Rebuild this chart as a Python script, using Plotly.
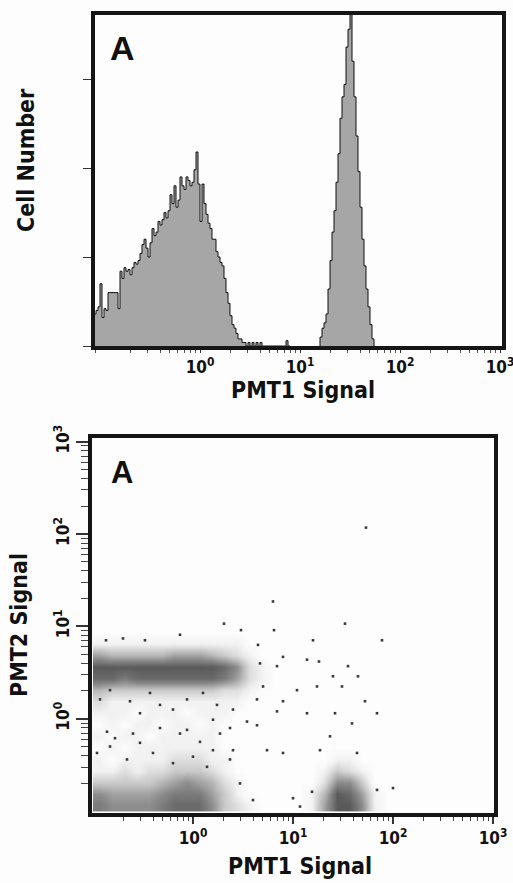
import numpy as np
import plotly.graph_objects as go

# ---------------- top panel: PMT1 histogram ----------------
BIN_W = 0.02  # bin width in decades

# low-intensity population, bins start at 10^-1.06
low_start = -1.06
low_counts = [18, 20, 22, 35, 16, 21, 20, 30, 30, 30, 30, 30, 21, 42, 38, 44, 42, 43, 40, 44,
              47, 46, 48, 52, 57, 60, 55, 50, 58, 66, 62, 64, 70, 68, 71, 75, 72, 76, 85, 80,
              90, 78, 82, 95, 90, 88, 95, 93, 90, 92, 99, 109, 91, 70, 91, 80, 74, 69, 66, 60,
              60, 53, 50, 47, 45, 38, 30, 24, 17, 12, 10, 7, 4, 4, 2, 2, 0, 2, 0, 2,
              0, 2, 0, 2, 0, 0, 0, 0, 0, 0, 0, 0, 0, 0, 0, 0, 3, 0]

# bright population, bins start at 10^1.20
high_start = 1.20
high_counts = [5, 10, 13, 18, 32, 48, 64, 76, 92, 108, 128, 140, 147, 168, 178, 190,
               160, 140, 118, 98, 78, 60, 45, 32, 22, 12, 4]

count_ticks = [0, 50, 100, 150]
decade_vals = [1, 10, 100, 1000]
decade_text = ["10<sup>0</sup>", "10<sup>1</sup>", "10<sup>2</sup>", "10<sup>3</sup>"]

# ---------------- bottom panel: PMT1 vs PMT2 dot density ----------------
# relative event density on a 0.125-decade grid, x from 10^-1 to 10^2, y from 10^-1 to 10^1
grid_start = -1.0
grid_step = 0.125
density_rows = [
    [7, 6, 6, 6, 6, 7, 8, 8, 8, 6, 3, 2, 1, 0, 0, 0, 0, 1, 5, 9, 9, 6, 1, 0],
    [6, 5, 5, 5, 5, 6, 7, 7, 7, 5, 3, 1, 0, 0, 0, 0, 0, 1, 4, 9, 8, 5, 1, 0],
    [3, 3, 3, 3, 3, 4, 5, 6, 5, 4, 2, 1, 0, 0, 0, 0, 0, 0, 2, 6, 6, 3, 0, 0],
    [1, 1, 2, 1, 2, 2, 3, 3, 3, 2, 1, 0, 0, 0, 0, 0, 0, 0, 1, 3, 2, 1, 0, 0],
    [1, 0, 1, 1, 1, 1, 2, 2, 2, 1, 1, 0, 0, 0, 0, 0, 0, 0, 0, 1, 1, 0, 0, 0],
    [0, 1, 0, 1, 1, 1, 1, 1, 1, 1, 0, 0, 0, 0, 0, 0, 0, 0, 0, 0, 0, 0, 0, 0],
    [1, 0, 1, 1, 0, 1, 1, 1, 1, 1, 0, 0, 0, 0, 0, 0, 0, 0, 0, 0, 0, 0, 0, 0],
    [0, 1, 0, 1, 1, 0, 1, 1, 0, 1, 0, 0, 0, 0, 0, 0, 0, 0, 0, 0, 0, 0, 0, 0],
    [1, 1, 1, 0, 1, 1, 1, 0, 1, 1, 1, 0, 0, 0, 0, 0, 0, 0, 0, 0, 0, 0, 0, 0],
    [2, 1, 1, 1, 1, 1, 1, 1, 1, 1, 1, 1, 0, 0, 0, 0, 0, 0, 0, 0, 0, 0, 0, 0],
    [4, 3, 3, 3, 3, 3, 3, 3, 3, 3, 2, 2, 1, 0, 0, 0, 0, 0, 0, 0, 0, 0, 0, 0],
    [8, 8, 7, 8, 8, 8, 8, 8, 8, 8, 7, 5, 2, 1, 0, 0, 0, 0, 0, 0, 0, 0, 0, 0],
    [9, 9, 9, 9, 9, 9, 9, 9, 9, 9, 8, 6, 2, 1, 0, 0, 0, 0, 0, 0, 0, 0, 0, 0],
    [5, 4, 4, 4, 4, 4, 5, 5, 5, 4, 3, 2, 1, 0, 0, 0, 0, 0, 0, 0, 0, 0, 0, 0],
    [1, 1, 1, 1, 1, 1, 1, 1, 1, 1, 1, 1, 0, 0, 0, 0, 0, 0, 0, 0, 0, 0, 0, 0],
    [0, 0, 0, 0, 0, 0, 0, 0, 0, 0, 0, 0, 0, 0, 0, 0, 0, 0, 0, 0, 0, 0, 0, 0],
]

# isolated events (decades of PMT1 / PMT2 signal)
sparse_pmt1_dec = [-0.70, -0.87, -0.48, -0.13, 0.31, 0.48, 0.65, 0.81, 1.20, 1.52, 1.89, 0.90,
                   0.67, 0.84, 1.14, 1.26, 1.55, 1.40, 1.65, 1.49, 1.24, 1.04, 0.70, 0.64,
                   0.90, 1.72, 1.84, 1.42, 1.14, 0.84, 0.54, 0.64, 0.37, -0.86, -0.78, -0.53,
                   1.27, 1.59, 1.64, 1.37, 0.74, 0.90, 1.00, 1.19, 2.00, 1.84, 1.07, 0.60,
                   0.47, 0.37, 0.20, 0.07, -0.93, -0.83, -0.63, -0.43, -0.33, -0.20, -0.06,
                   0.10, 0.24, 0.40, 0.20, -0.06, -0.33, -0.60, -0.83, -0.96, -0.66, -0.40,
                   -0.20, 0.00, 0.27, 0.40, 0.14, -0.13, -0.53, 1.73, 0.80]
sparse_pmt2_dec = [0.87, 0.85, 0.85, 0.91, 1.03, 0.96, 0.80, 0.96, 0.85, 1.03, 0.85, 0.67,
                   0.60, 0.57, 0.64, 0.62, 0.57, 0.46, 0.46, 0.35, 0.35, 0.31, 0.35, 0.21,
                   0.19, 0.19, 0.06, 0.06, 0.06, 0.08, -0.03, -0.07, -0.10, -0.14, -0.21, -0.26,
                   -0.34, -0.05, -0.37, -0.19, -0.34, -0.37, -0.86, -0.79, -0.75, -0.77, -0.95, -0.88,
                   -0.70, -0.44, -0.34, -0.25, 0.21, 0.31, 0.19, 0.28, 0.15, 0.10, 0.21,
                   0.28, 0.15, 0.10, -0.01, -0.12, -0.10, -0.16, -0.30, -0.37, -0.44, -0.37,
                   -0.48, -0.41, -0.16, -0.34, -0.52, -0.16, 0.06, 2.07, 1.27]

# ---------------- styling ----------------
TITLE_FONT = "Liberation Sans Narrow, DejaVu Sans Condensed, Arial Narrow, sans-serif"
FRAME = "#151515"
BG = "#fdfdfd"
W, H = 513, 883


def px_dom_x(a, b):
    return [a / W, b / W]


def px_dom_y(top, bottom):
    return [1 - bottom / H, 1 - top / H]


def step_xy(start, counts, lead_zero):
    edges = start + BIN_W * np.arange(len(counts) + 1)
    xs = list(10 ** edges)
    ys = list(counts) + [0]
    if lead_zero:
        xs = [xs[0]] + xs
        ys = [0] + ys
    return xs, ys


minor_vals = [m * 10.0 ** p for p in range(-2, 3) for m in range(2, 10)]

fig = go.Figure()

for start, counts, lead in [(low_start, low_counts, False), (high_start, high_counts, True)]:
    xs, ys = step_xy(start, counts, lead)
    fig.add_trace(go.Scatter(
        x=xs, y=ys, mode="lines", line=dict(shape="hv", color="#111111", width=1),
        fill="tozeroy", fillcolor="#a6a6a6", xaxis="x", yaxis="y",
        hoverinfo="skip", showlegend=False,
    ))

x_edges = 10 ** (grid_start + grid_step * np.arange(len(density_rows[0]) + 1))
y_edges = 10 ** (grid_start + grid_step * np.arange(len(density_rows) + 1))
fig.add_trace(go.Heatmap(
    x=x_edges, y=y_edges, z=density_rows, zmin=0, zmax=9, zsmooth="best",
    colorscale=[[0, BG], [0.11, "#f2f2f2"], [0.33, "#cbcbcb"],
                [0.67, "#8c8c8c"], [1, "#5a5a5a"]],
    showscale=False, xaxis="x2", yaxis="y2", hoverinfo="skip",
))

fig.add_trace(go.Scatter(
    x=10 ** np.array(sparse_pmt1_dec), y=10 ** np.array(sparse_pmt2_dec), mode="markers",
    marker=dict(symbol="square", size=2.6, color="#3a3a3a", line=dict(width=0)),
    xaxis="x2", yaxis="y2", hoverinfo="skip", showlegend=False,
))

tick_font = dict(family=TITLE_FONT, size=17, color="#111111", weight="bold")
frame_axis = dict(showline=True, linewidth=3.5, linecolor=FRAME, mirror=True,
                  showgrid=False, zeroline=False, automargin=False)

fig.update_layout(
    width=W, height=H, margin=dict(l=0, r=0, t=0, b=0, autoexpand=False),
    paper_bgcolor=BG, plot_bgcolor=BG, showlegend=False,
    xaxis=dict(type="log", range=[-1.05, 3.02], domain=px_dom_x(95, 502), anchor="y",
               tickvals=decade_vals, ticktext=decade_text, ticks="outside", ticklen=3,
               tickwidth=1, tickcolor="#333", tickfont=tick_font, ticklabeloverflow="allow",
               minor=dict(tickvals=minor_vals, ticks="outside", ticklen=3, tickwidth=1,
                          tickcolor="#555"),
               **frame_axis),
    yaxis=dict(range=[0, 186], domain=px_dom_y(15, 346), anchor="x",
               tickvals=count_ticks, showticklabels=False, ticks="outside", ticklen=8,
               tickwidth=1.2, tickcolor="#333", **frame_axis),
    xaxis2=dict(type="log", range=[-1.01, 3.01], domain=px_dom_x(92, 494), anchor="y2",
                tickvals=decade_vals, ticktext=decade_text, ticks="outside", ticklen=7,
                tickwidth=1.5, tickcolor="#333", tickfont=tick_font, ticklabeloverflow="allow",
                minor=dict(tickvals=minor_vals, ticks="outside", ticklen=4, tickwidth=1,
                           tickcolor="#444"),
                **frame_axis),
    yaxis2=dict(type="log", range=[-1.02, 3.04], domain=px_dom_y(438, 813), anchor="x2",
                tickvals=decade_vals, ticktext=decade_text, ticks="outside", ticklen=12,
                tickwidth=1.5, tickcolor="#333", tickangle=-90, tickfont=tick_font,
                ticklabeloverflow="allow",
                minor=dict(tickvals=minor_vals, ticks="outside", ticklen=7, tickwidth=1.2,
                           tickcolor="#444"),
                **frame_axis),
)

title_font = dict(family=TITLE_FONT, size=23, color="#111111", weight="bold")
letter_font = dict(family="Liberation Sans, Arial, sans-serif", size=34, color="#111111",
                   weight="bold")

annotations = [
    dict(text="Cell Number", x=26 / W, y=1 - 160 / H, textangle=-90, font=title_font),
    dict(text="PMT1 Signal", x=303 / W, y=1 - 390 / H, font=title_font),
    dict(text="PMT2 Signal", x=19 / W, y=1 - 625 / H, textangle=-90, font=title_font),
    dict(text="PMT1 Signal", x=300 / W, y=1 - 866 / H, font=title_font),
    dict(text="A", x=122 / W, y=1 - 48 / H, font=letter_font),
    dict(text="A", x=122 / W, y=1 - 472 / H, font=dict(letter_font, size=31)),
]
for a in annotations:
    fig.add_annotation(xref="paper", yref="paper", showarrow=False,
                       xanchor="center", yanchor="middle", **a)

fig.write_html("out.html")
